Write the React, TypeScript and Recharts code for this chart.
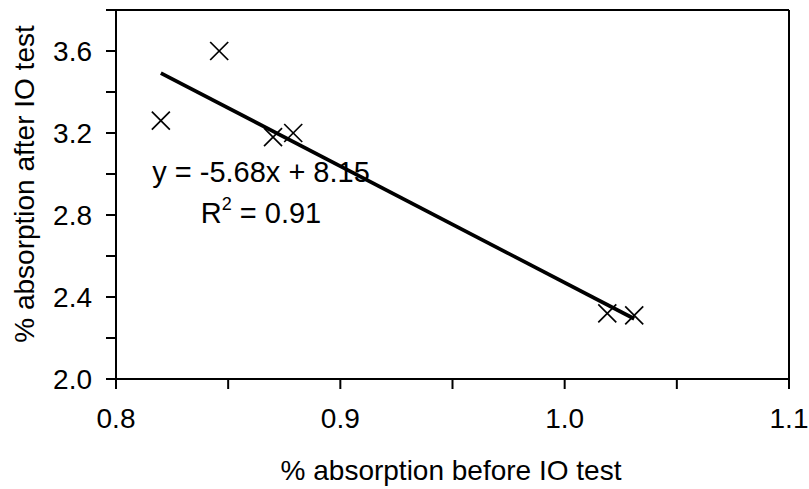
import { ScatterChart, Scatter, XAxis, YAxis, ReferenceLine } from "recharts";

// % absorption before / after the IO test, one entry per sample
const before = [0.82, 0.846, 0.87, 0.879, 1.019, 1.031];
const after = [3.26, 3.6, 3.18, 3.2, 2.32, 2.31];

// linear fit reported on the chart
const slope = -5.68;
const intercept = 8.15;
const r2 = 0.91;

const xTicks = [0.8, 0.85, 0.9, 0.95, 1.0, 1.05, 1.1];
const yTicks = [2.0, 2.2, 2.4, 2.6, 2.8, 3.0, 3.2, 3.4, 3.6, 3.8];

const font = "'Liberation Sans', Arial, sans-serif";
const fontSize = 28;

const points = before.map((x, i) => ({ x, y: after[i] }));

const xMin = Math.min(...before);
const xMax = Math.max(...before);
const trend = [
    { x: xMin, y: slope * xMin + intercept },
    { x: xMax, y: slope * xMax + intercept },
];

const Cross = (props: any) => {
    const { cx, cy } = props;
    const s = 9;
    return (
        <g stroke="#000" strokeWidth={1.7}>
            <line x1={cx - s} y1={cy - s} x2={cx + s} y2={cy + s} />
            <line x1={cx - s} y1={cy + s} x2={cx + s} y2={cy - s} />
        </g>
    );
};

const tickStyle = { fontSize, fill: "#000", fontFamily: font };

export default function App() {
    return (
        <div style={{ position: "absolute", left: 0, top: 0, background: "#fff" }}>
            <ScatterChart width={809} height={489} margin={{ top: 10, right: 20, left: 0, bottom: 0 }}>
                <XAxis
                    type="number"
                    dataKey="x"
                    domain={[0.8, 1.1]}
                    ticks={xTicks}
                    interval={0}
                    tickFormatter={(v: number, i: number) => (i % 2 === 0 ? v.toFixed(1) : "")}
                    height={110}
                    stroke="#000"
                    strokeWidth={2}
                    tickSize={10}
                    tickMargin={19}
                    tick={tickStyle}
                />
                <YAxis
                    type="number"
                    dataKey="y"
                    domain={[2.0, 3.8]}
                    ticks={yTicks}
                    interval={0}
                    tickFormatter={(v: number, i: number) => (i % 2 === 0 ? v.toFixed(1) : "")}
                    width={116}
                    stroke="#000"
                    strokeWidth={2}
                    tickSize={10}
                    tickMargin={14}
                    tick={tickStyle}
                />
                <ReferenceLine y={3.8} stroke="#000" strokeWidth={2} />
                <ReferenceLine x={1.1} stroke="#000" strokeWidth={2} />
                <Scatter
                    data={trend}
                    line={{ stroke: "#000", strokeWidth: 3.7 }}
                    shape={() => <g />}
                    isAnimationActive={false}
                />
                <Scatter data={points} shape={<Cross />} isAnimationActive={false} />

                {/* axis titles */}
                <text x={451} y={480} textAnchor="middle" fontFamily={font} fontSize={fontSize} fill="#000">
                    % absorption before IO test
                </text>
                <text
                    x={34}
                    y={184}
                    transform="rotate(-90 34 184)"
                    textAnchor="middle"
                    fontFamily={font}
                    fontSize={fontSize}
                    fill="#000"
                >
                    % absorption after IO test
                </text>

                {/* fit equation */}
                <text x={261} y={182} textAnchor="middle" fontFamily={font} fontSize={29} fill="#000">
                    {`y = ${slope.toFixed(2)}x + ${intercept.toFixed(2)}`}
                </text>
                <text x={261} y={223} textAnchor="middle" fontFamily={font} fontSize={29} fill="#000">
                    R<tspan fontSize={18} dy={-13}>2</tspan>
                    <tspan dy={13}>{` = ${r2.toFixed(2)}`}</tspan>
                </text>
            </ScatterChart>
        </div>
    );
}
